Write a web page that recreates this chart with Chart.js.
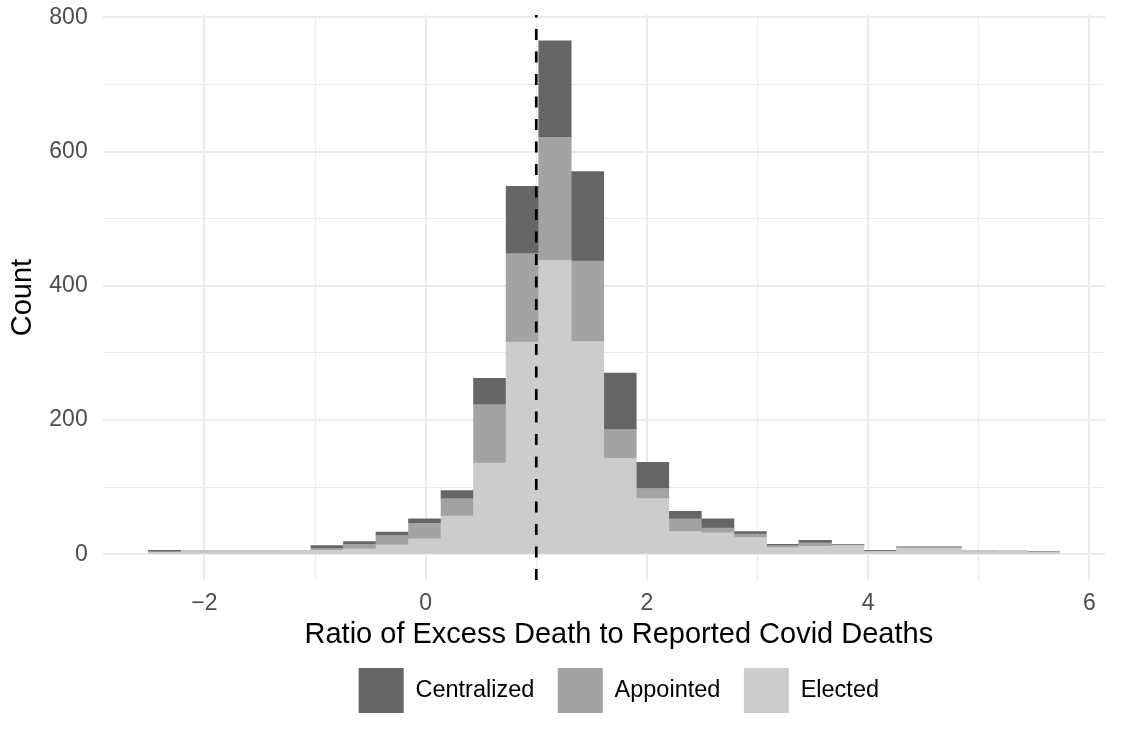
<!DOCTYPE html>
<html>
<head>
<meta charset="utf-8">
<title>Ratio of Excess Death to Reported Covid Deaths</title>
<script src="https://cdn.jsdelivr.net/npm/chart.js@4.4.0/dist/chart.umd.min.js"></script>
<style>
  html, body { margin: 0; padding: 0; background: #fff; }
  #wrap { width: 1128px; height: 737px; position: relative; }
</style>
</head>
<body>
<div id="wrap"><canvas id="histChart"></canvas></div>
<script>
'use strict';

// histogram bin midpoints
const binMids = [-2.361, -2.067, -1.773, -1.479, -1.184, -0.890, -0.596, -0.302, -0.008, 0.286,
  0.580, 0.875, 1.169, 1.463, 1.757, 2.051, 2.345, 2.640, 2.934, 3.228,
  3.522, 3.816, 4.110, 4.405, 4.699, 4.993, 5.287, 5.581];

// counts per bin, by type of official
const elected = [3, 4, 4, 4, 6, 6, 8, 14, 23, 57,
  136, 316, 438, 317, 143, 83, 34, 32, 25, 10,
  12, 13, 4, 9, 9, 4, 5, 3];
const appointed = [1, 1, 1, 1, 0, 3, 7, 14, 23, 26,
  87, 132, 183, 120, 43, 15, 19, 7, 5, 3,
  5, 1, 1, 2, 2, 1, 0, 1];
const centralized = [2, 0, 0, 0, 0, 4, 4, 5, 7, 12,
  39, 100, 144, 133, 84, 39, 11, 14, 4, 2,
  4, 1, 1, 0, 0, 0, 0, 0];

// labelled ticks, the rest are minor grid lines
const xMajorTicks = [-2, 0, 2, 4, 6];
const yMajorTicks = [0, 200, 400, 600, 800];

const refLine = 1; // dashed line, ratio = 1

const fontFamily = "'Liberation Sans', Arial, Helvetica, sans-serif";

function makeSet(label, values, color) {
  return {
    label: label,
    data: binMids.map((x, i) => ({x: x, y: values[i]})),
    backgroundColor: color,
    borderColor: color,
    borderWidth: 0,
    barThickness: 'flex',
    categoryPercentage: 1,
    barPercentage: 1
  };
}

//draws the vertical dashed reference line
const refLinePlugin = {
  id: 'refLine',
  afterLayout(chart) {
    // the original centres the x title and legend a bit right of the panel centre
    chart.scales.x.right += 30;
    chart.legend.left += 15;
    chart.legend.right += 15;
  },
  afterDatasetsDraw(chart) {
    let area = chart.chartArea;
    let x = chart.scales.x.getPixelForValue(refLine);
    let ctx = chart.ctx;
    ctx.save();
    ctx.strokeStyle = '#000000';
    ctx.lineWidth = 2.7;
    ctx.setLineDash([11, 11.5]);
    ctx.beginPath();
    ctx.moveTo(x, area.bottom);
    ctx.lineTo(x, area.top);
    ctx.stroke();
    ctx.restore();
  }
};

function gridWidth(majors) {
  return (c) => (c.tick && majors.includes(c.tick.value)) ? 2 : 1;
}

let ctx = document.getElementById('histChart').getContext('2d');

// eslint-disable-next-line no-unused-vars
let histChart = new Chart(ctx, {
  type: 'bar',
  data: {
    datasets: [
      makeSet('Elected', elected, '#CCCCCC'),
      makeSet('Appointed', appointed, '#A3A3A3'),
      makeSet('Centralized', centralized, '#666666')
    ]
  },
  options: {
    responsive: true,
    maintainAspectRatio: false,
    animation: false,
    layout: {
      padding: {top: 15.1, right: 23, bottom: 14, left: 0}
    },
    plugins: {
      tooltip: {enabled: false},
      legend: {
        position: 'bottom',
        fullSize: false,
        reverse: true,
        labels: {
          boxWidth: 45,
          boxHeight: 45,
          padding: 23.5,
          color: '#000000',
          font: {size: 23.5, family: fontFamily}
        }
      }
    },
    scales: {
      x: {
        type: 'linear',
        stacked: true,
        offset: false,
        min: -2.92,
        max: 6.142,
        border: {display: false},
        grid: {
          offset: false,
          color: '#EBEBEB',
          lineWidth: gridWidth(xMajorTicks),
          drawTicks: false
        },
        ticks: {
          stepSize: 1,
          includeBounds: false,
          autoSkip: false,
          maxRotation: 0,
          padding: 10.2,
          color: '#4D4D4D',
          font: {size: 23, family: fontFamily},
          callback: (v) => xMajorTicks.includes(v) ? (v < 0 ? '\u2212' + Math.abs(v) : String(v)) : ''
        },
        title: {
          display: true,
          text: 'Ratio of Excess Death to Reported Covid Deaths',
          color: '#000000',
          font: {size: 29, family: fontFamily},
          padding: {top: 0, bottom: -7.6}
        },
        afterFit: (s) => { s.height = 64.5; }
      },
      y: {
        stacked: true,
        min: -38.25,
        max: 803.25,
        border: {display: false},
        grid: {
          color: '#EBEBEB',
          lineWidth: gridWidth(yMajorTicks),
          drawTicks: false
        },
        ticks: {
          stepSize: 100,
          includeBounds: false,
          autoSkip: false,
          padding: 15,
          color: '#4D4D4D',
          font: {size: 23, family: fontFamily},
          callback: (v) => yMajorTicks.includes(v) ? String(v) : ''
        },
        title: {
          display: true,
          text: 'Count',
          color: '#000000',
          font: {size: 29, family: fontFamily},
          padding: {top: 5.7, bottom: 0}
        },
        afterFit: (s) => {
          s.width = 102.7;
          s.paddingTop = 0;
          s.paddingBottom = 0;
        }
      }
    }
  },
  plugins: [refLinePlugin]
});
</script>
</body>
</html>
